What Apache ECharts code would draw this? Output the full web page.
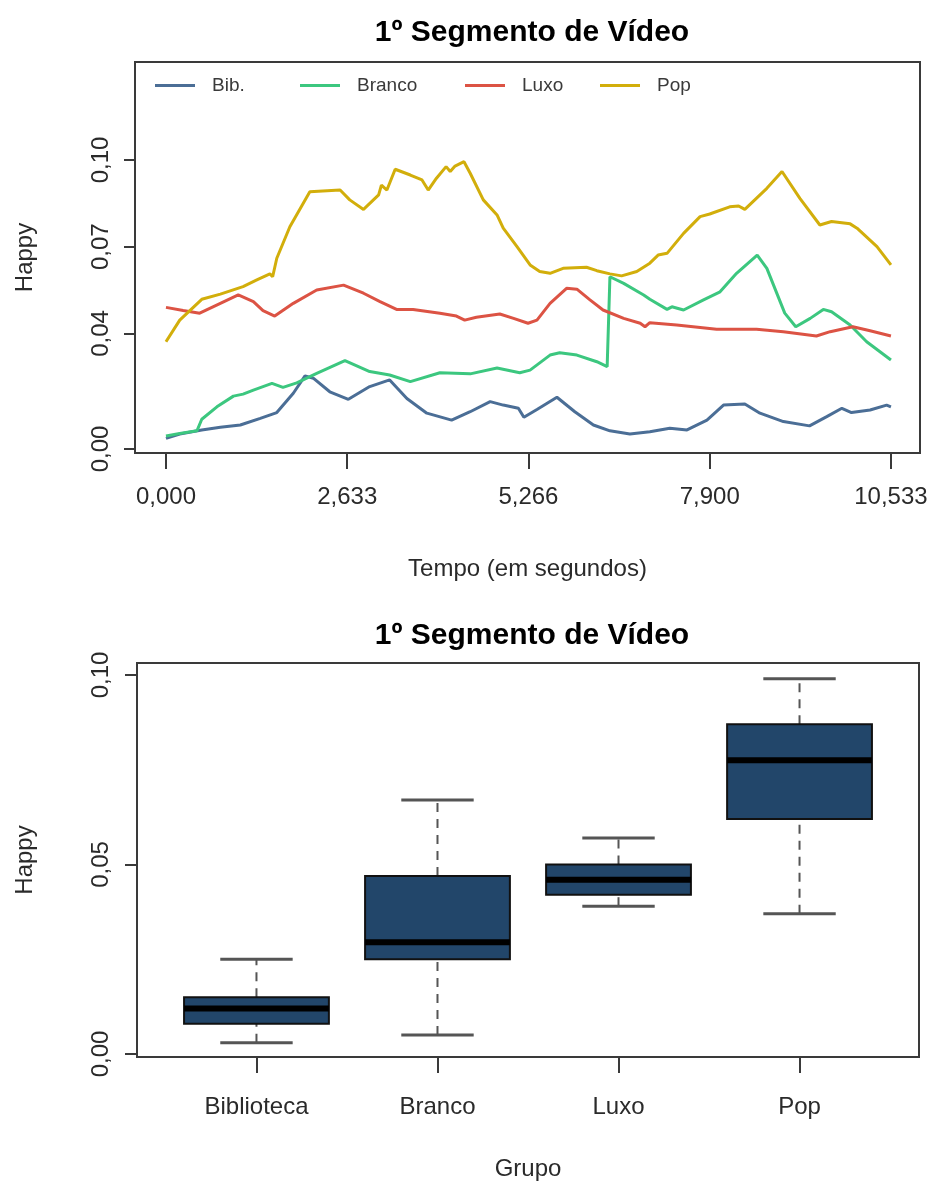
<!DOCTYPE html>
<html>
<head>
<meta charset="utf-8">
<script src="https://cdn.jsdelivr.net/npm/echarts@6/dist/echarts.min.js"></script>
<style>
html,body{margin:0;padding:0;background:#fff;}
#chart{width:936px;height:1185px;}
</style>
</head>
<body>
<div id="chart"></div>
<script>
// ---------- Data ----------
const chartTitle = '1º Segmento de Vídeo';
const seriesNames = ['Bib.', 'Branco', 'Luxo', 'Pop'];

const xTickValues = [0, 2.633, 5.266, 7.9, 10.533];
const xTickLabels = ['0,000', '2,633', '5,266', '7,900', '10,533'];
const yTickValuesTop = [0, 0.04, 0.07, 0.10];
const yTickLabelsTop = ['0,00', '0,04', '0,07', '0,10'];
const yTickValuesBottom = [0, 0.05, 0.10];
const yTickLabelsBottom = ['0,00', '0,05', '0,10'];

const bibData = [[0,0.0037],[0.2,0.0052],[0.52,0.0066],[0.79,0.0075],[1.08,0.0083],[1.37,0.0106],[1.61,0.0126],[1.85,0.0193],[2.02,0.0253],[2.14,0.0245],[2.38,0.0198],[2.65,0.0172],[2.96,0.0216],[3.25,0.0239],[3.5,0.0175],[3.79,0.0124],[4.15,0.0100],[4.42,0.0129],[4.71,0.0164],[4.9,0.0152],[5.12,0.0141],[5.2,0.0110],[5.39,0.0137],[5.68,0.0179],[5.94,0.0129],[6.21,0.0083],[6.45,0.0063],[6.74,0.0052],[7.03,0.0060],[7.32,0.0072],[7.57,0.0066],[7.86,0.0100],[8.1,0.0152],[8.41,0.0156],[8.63,0.0124],[8.97,0.0095],[9.35,0.0080],[9.6,0.0112],[9.82,0.0141],[9.96,0.0126],[10.23,0.0135],[10.47,0.0152],[10.533,0.0146]];

const brancoData = [[0,0.0045],[0.2,0.0054],[0.45,0.0063],[0.52,0.0103],[0.74,0.0146],[0.98,0.0183],[1.12,0.0190],[1.27,0.0204],[1.54,0.0227],[1.70,0.0213],[1.90,0.0229],[2.19,0.0262],[2.6,0.0306],[2.96,0.0268],[3.25,0.0256],[3.55,0.0233],[3.98,0.0264],[4.42,0.0260],[4.81,0.0280],[5.14,0.0264],[5.29,0.0273],[5.58,0.0325],[5.72,0.0333],[5.97,0.0325],[6.26,0.0302],[6.41,0.0285],[6.45,0.0596],[6.65,0.0573],[6.94,0.0533],[7.03,0.0518],[7.28,0.0483],[7.35,0.0492],[7.52,0.0481],[7.81,0.0516],[8.05,0.0544],[8.29,0.0608],[8.59,0.0671],[8.73,0.0625],[8.99,0.0470],[9.15,0.0423],[9.36,0.0452],[9.55,0.0483],[9.67,0.0475],[9.94,0.0429],[10.18,0.0371],[10.533,0.0308]];

const luxoData = [[0,0.0490],[0.25,0.0479],[0.49,0.0470],[0.79,0.0504],[1.05,0.0533],[1.27,0.0510],[1.41,0.0479],[1.58,0.0460],[1.85,0.0504],[2.19,0.0550],[2.58,0.0567],[2.87,0.0539],[3.11,0.0510],[3.35,0.0483],[3.59,0.0483],[3.98,0.0470],[4.22,0.0460],[4.34,0.0446],[4.51,0.0456],[4.85,0.0467],[5.05,0.0452],[5.26,0.0435],[5.39,0.0446],[5.58,0.0504],[5.82,0.0556],[5.97,0.0553],[6.16,0.0516],[6.35,0.0481],[6.65,0.0452],[6.89,0.0435],[6.96,0.0423],[7.03,0.0437],[7.42,0.0429],[8.0,0.0414],[8.58,0.0414],[8.97,0.0406],[9.45,0.0391],[9.65,0.0406],[9.98,0.0423],[10.23,0.0409],[10.533,0.0391]];

const popData = [[0,0.0371],[0.20,0.0446],[0.52,0.0518],[0.79,0.0536],[1.12,0.0562],[1.32,0.0585],[1.51,0.0606],[1.55,0.0596],[1.61,0.0660],[1.80,0.0769],[2.09,0.0890],[2.53,0.0896],[2.67,0.0862],[2.87,0.0829],[3.09,0.0879],[3.13,0.0913],[3.21,0.0896],[3.33,0.0968],[3.55,0.0948],[3.72,0.0931],[3.81,0.0896],[3.93,0.0937],[4.07,0.0977],[4.13,0.0960],[4.20,0.0979],[4.33,0.0994],[4.42,0.0954],[4.61,0.0862],[4.81,0.0810],[4.90,0.0764],[5.10,0.0700],[5.29,0.0637],[5.43,0.0614],[5.58,0.0608],[5.77,0.0625],[6.11,0.0629],[6.26,0.0617],[6.45,0.0606],[6.62,0.0599],[6.84,0.0614],[7.03,0.0643],[7.15,0.0671],[7.28,0.0677],[7.52,0.0746],[7.76,0.0804],[7.90,0.0813],[8.19,0.0838],[8.32,0.0841],[8.41,0.0829],[8.73,0.0902],[8.95,0.0960],[9.21,0.0867],[9.50,0.0775],[9.67,0.0787],[9.94,0.0779],[10.04,0.0764],[10.33,0.0700],[10.533,0.0637]];

const groups = ['Biblioteca', 'Branco', 'Luxo', 'Pop'];
// [lower whisker, Q1, median, Q3, upper whisker]
const bibStats = [0.003, 0.008, 0.012, 0.015, 0.025];
const brancoStats = [0.005, 0.025, 0.0295, 0.047, 0.067];
const luxoStats = [0.039, 0.042, 0.046, 0.050, 0.057];
const popStats = [0.037, 0.062, 0.0775, 0.087, 0.099];

// ---------- Styles ----------
const colors = ['#4b6e96', '#3cc77f', '#dc5344', '#d2ae0b'];
const FONT = '"Liberation Sans", Arial, Helvetica, sans-serif';
const axisColor = '#3a3a3a';
const textColor = '#2a2a2a';

function nearestLabel(values, labels, v) {
  let best = 0;
  for (let i = 1; i < values.length; i++) {
    if (Math.abs(values[i] - v) < Math.abs(values[best] - v)) best = i;
  }
  return labels[best];
}

const lineSeriesData = [bibData, brancoData, luxoData, popData];
const boxData = [bibStats, brancoStats, luxoStats, popStats].map((s, i) => [i + 1].concat(s));

const legendLefts = [155, 300, 465, 600];

const chart = echarts.init(document.getElementById('chart'), null, {renderer: 'canvas'});

const option = {
  backgroundColor: '#ffffff',
  animation: false,
  textStyle: {fontFamily: FONT},
  title: [
    {text: chartTitle, left: 527, top: 13, textAlign: 'center',
     textStyle: {fontFamily: FONT, fontSize: 30, fontWeight: 'bold', color: '#000'}},
    {text: chartTitle, left: 527, top: 616, textAlign: 'center',
     textStyle: {fontFamily: FONT, fontSize: 30, fontWeight: 'bold', color: '#000'}}
  ],
  legend: seriesNames.map((n, i) => ({
    data: [n],
    left: legendLefts[i],
    top: 76,
    icon: 'rect',
    itemWidth: 40,
    itemHeight: 3,
    padding: 0,
    selectedMode: false,
    textStyle: {fontFamily: FONT, fontSize: 19, color: '#3a3a3a', padding: [0, 0, 0, 12]}
  })),
  grid: [
    {left: 135, right: 16, top: 62, height: 391, show: true, borderColor: axisColor, borderWidth: 2, backgroundColor: 'transparent', containLabel: false},
    {left: 137, right: 17, top: 663, height: 394, show: true, borderColor: axisColor, borderWidth: 2, backgroundColor: 'transparent', containLabel: false}
  ],
  xAxis: [
    {
      type: 'value', gridIndex: 0, min: -0.45, max: 10.955, position: 'bottom',
      axisLine: {show: false, onZero: false},
      splitLine: {show: false},
      axisTick: {show: true, inside: false, length: 16, customValues: xTickValues, lineStyle: {color: axisColor, width: 2}},
      axisLabel: {customValues: xTickValues, margin: 32, fontSize: 24, color: textColor, fontFamily: FONT,
        formatter: v => nearestLabel(xTickValues, xTickLabels, v)},
      name: 'Tempo (em segundos)', nameLocation: 'middle', nameGap: 104,
      nameTextStyle: {fontSize: 24, color: textColor, fontFamily: FONT}
    },
    {
      type: 'value', gridIndex: 1, min: 0.34, max: 4.66, position: 'bottom',
      axisLine: {show: false, onZero: false},
      splitLine: {show: false},
      axisTick: {show: true, inside: false, length: 16, customValues: [1, 2, 3, 4], lineStyle: {color: axisColor, width: 2}},
      axisLabel: {customValues: [1, 2, 3, 4], margin: 38, fontSize: 24, color: textColor, fontFamily: FONT,
        formatter: v => groups[Math.round(v) - 1]},
      name: 'Grupo', nameLocation: 'middle', nameGap: 100,
      nameTextStyle: {fontSize: 24, color: textColor, fontFamily: FONT}
    }
  ],
  yAxis: [
    {
      type: 'value', gridIndex: 0, min: -0.00138, max: 0.1339, position: 'left',
      axisLine: {show: false, onZero: false},
      splitLine: {show: false},
      axisTick: {show: true, inside: false, length: 11, customValues: yTickValuesTop, lineStyle: {color: axisColor, width: 2}},
      axisLabel: {customValues: yTickValuesTop, rotate: 90, margin: 22, fontSize: 24, color: textColor, fontFamily: FONT,
        formatter: v => nearestLabel(yTickValuesTop, yTickLabelsTop, v)},
      name: 'Happy', nameLocation: 'middle', nameGap: 98, nameRotate: 90,
      nameTextStyle: {fontSize: 24, color: textColor, fontFamily: FONT}
    },
    {
      type: 'value', gridIndex: 1, min: -0.00079, max: 0.10317, position: 'left',
      axisLine: {show: false, onZero: false},
      splitLine: {show: false},
      axisTick: {show: true, inside: false, length: 12, customValues: yTickValuesBottom, lineStyle: {color: axisColor, width: 2}},
      axisLabel: {customValues: yTickValuesBottom, rotate: 90, margin: 24, fontSize: 24, color: textColor, fontFamily: FONT,
        formatter: v => nearestLabel(yTickValuesBottom, yTickLabelsBottom, v)},
      name: 'Happy', nameLocation: 'middle', nameGap: 100, nameRotate: 90,
      nameTextStyle: {fontSize: 24, color: textColor, fontFamily: FONT}
    }
  ],
  series: seriesNames.map((n, i) => ({
    name: n,
    type: 'line',
    xAxisIndex: 0, yAxisIndex: 0,
    data: lineSeriesData[i],
    symbol: 'none',
    showSymbol: false,
    color: colors[i],
    lineStyle: {color: colors[i], width: 3},
    z: 2 + i
  })).concat([{
    type: 'custom',
    name: 'box',
    xAxisIndex: 1, yAxisIndex: 1,
    data: boxData,
    encode: {x: 0, y: [1, 2, 3, 4, 5]},
    renderItem: function (params, api) {
      const x = api.value(0);
      const lo = api.coord([x, api.value(1)]);
      const q1 = api.coord([x, api.value(2)]);
      const med = api.coord([x, api.value(3)]);
      const q3 = api.coord([x, api.value(4)]);
      const hi = api.coord([x, api.value(5)]);
      const bw = api.size([0.8, 0])[0];
      const cw = bw / 2;
      const cx = lo[0];
      const whisk = {stroke: '#555', lineWidth: 2, lineDash: [9, 7]};
      const cap = {stroke: '#555', lineWidth: 3};
      return {
        type: 'group',
        children: [
          {type: 'line', shape: {x1: cx, y1: lo[1], x2: cx, y2: q1[1]}, style: whisk},
          {type: 'line', shape: {x1: cx, y1: q3[1], x2: cx, y2: hi[1]}, style: whisk},
          {type: 'line', shape: {x1: cx - cw / 2, y1: lo[1], x2: cx + cw / 2, y2: lo[1]}, style: cap},
          {type: 'line', shape: {x1: cx - cw / 2, y1: hi[1], x2: cx + cw / 2, y2: hi[1]}, style: cap},
          {type: 'rect', shape: {x: cx - bw / 2, y: q3[1], width: bw, height: q1[1] - q3[1]},
           style: {fill: '#22466a', stroke: '#111', lineWidth: 2}},
          {type: 'line', shape: {x1: cx - bw / 2, y1: med[1], x2: cx + bw / 2, y2: med[1]},
           style: {stroke: '#000', lineWidth: 6}}
        ]
      };
    }
  }])
};

chart.setOption(option);
</script>
</body>
</html>
